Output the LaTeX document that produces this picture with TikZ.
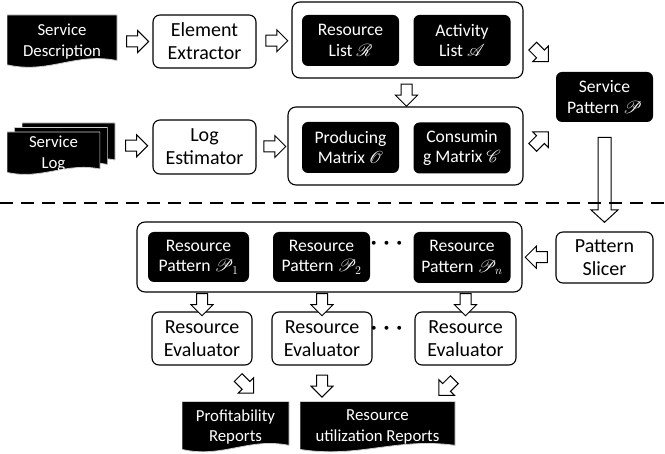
\documentclass[tikz,border=0pt]{standalone}
\usepackage{amsmath}
\usepackage{mathrsfs}
\usepackage{fontspec}
\setmainfont{Carlito}
\usetikzlibrary{shapes.arrows,calc}
\tikzset{
  proc/.style={draw=black,line width=1.1pt,rounded corners=7pt,fill=white,align=center,
    font=\fontsize{20}{23}\selectfont,
    minimum width=103pt,minimum height=53pt,inner sep=0pt},            % white step box
  blk/.style={fill=black,text=white,rounded corners=6pt,align=center,
    font=\fontsize{17.6}{20.5}\selectfont,
    minimum width=97pt,minimum height=51pt,inner sep=0pt},             % black data box
  grp/.style={draw=black,line width=1.1pt,rounded corners=8pt,inner sep=0pt},
  doc/.style={text=white,align=center,inner sep=0pt,minimum width=110pt,minimum height=53pt,
    font=\fontsize{16.8}{20.5}\selectfont,
    path picture={\filldraw[fill=black,draw=gray!40,line width=0.8pt]
      let \p1=(path picture bounding box.north west),
          \p2=(path picture bounding box.south east),
          \n1={\x2-\x1}, \n2={\y2-\y1} in
      (\x1,\y1) -- (\x2,\y1) -- ({\x2},{\y1+0.86*(\n2)})
      .. controls ({\x1+0.62*(\n1)},{\y1+0.7*(\n2)}) and ({\x1+0.38*(\n1)},{\y1+1.12*(\n2)})
      .. ({\x1},{\y1+0.94*(\n2)}) -- cycle;}},
  dots/.style={font=\fontsize{24}{26}\selectfont,inner sep=0pt},
  barrow/.style={single arrow,draw=black,fill=white,line width=1pt,inner xsep=0pt,inner ysep=5pt,
    minimum height=22pt,single arrow head extend=5.5pt,single arrow tip angle=90},
  sep/.style={line width=2.2pt,dash pattern=on 13pt off 8pt},
}

\begin{document}
\begin{tikzpicture}[x=1pt,y=-1pt]
  \useasboundingbox (0,0) rectangle (665,454);
  % extraction
  \node[doc] (sd) at (62,41.5) {Service\\Description};
  \node[proc] (ee) at (204.5,41.5) {Element\\Extractor};
  \node[grp,minimum width=231pt,minimum height=76pt] (g1) at (407.5,40) {};
  \node[blk] (rl) at (350.5,40.5) {Resource\\List $\mathscr{R}$};
  \node[blk] (al) at (462,40.5) {Activity\\List $\mathscr{A}$};
  \node[blk,minimum height=50pt] (sp) at (604.5,97) {Service\\Pattern $\mathscr{P}$};
  % log estimation
  \node[doc,minimum width=93pt,minimum height=43pt] (lg3) at (68.5,144.5) {};
  \node[doc,minimum width=93pt,minimum height=43pt] (lg2) at (61,149) {};
  \node[doc,minimum width=93pt,minimum height=43pt] (lg1) at (53.5,153.5) {Service\\Log};
  \node[proc,minimum height=54pt] (le) at (204.5,147) {Log\\Estimator};
  \node[grp,minimum width=235pt,minimum height=78pt] (g2) at (405.5,146) {};
  \node[blk] (pm) at (350.5,147.5) {Producing\\Matrix $\mathscr{O}$};
  \node[blk] (cm) at (462,148) {Consumin\\g Matrix $\mathscr{C}$};
  \node[barrow] (a1) at ($(sd.east)!0.5!(ee.west)$) {};
  \node[barrow] (a2) at ($(ee.east)!0.5!(g1.west)$) {};
  \node[barrow] (a3) at ($(lg3.east)!0.5!(le.west)$) {};
  \node[barrow] (a4) at ($(le.east)!0.5!(g2.west)$) {};
  \node[barrow,rotate=-90] (a5) at ($(g1.south)!0.5!(g2.north)$) {};
  \node[barrow,rotate=-45] (a6) at ($(g1.east)+(15,12)$) {};
  \node[barrow,rotate=45] (a7) at ($(g2.east)+(15,-4.5)$) {};
  % slicing
  \node[grp,minimum width=385pt,minimum height=70pt] (g3) at (329.5,257) {};
  \node[blk,minimum width=101pt,minimum height=50pt] (rp1) at (198.5,257) {Resource\\Pattern $\mathscr{P}_1$};
  \node[blk,minimum height=50pt] (rp2) at (321.5,257) {Resource\\Pattern $\mathscr{P}_2$};
  \node[dots] (d1) at (389,244) {$\boldsymbol{\cdots}$};
  \node[blk] (rpn) at (462,257.5) {Resource\\Pattern $\mathscr{P}_n$};
  \node[proc,minimum width=97pt,minimum height=51pt] (ps) at (604.5,257.5) {Pattern\\Slicer};
  \node[barrow,rotate=180] (a9) at ($(g3.east)!0.5!(ps.west)$) {};
  \node[barrow,rotate=-90,minimum height=85pt,inner ysep=6pt,single arrow head extend=7pt,
    single arrow tip angle=95] (a8) at ($(sp.south)!0.5!(ps.north)$) {};
  \coordinate (cutl) at (0,203);
  \coordinate (cutr) at (665,203);
  \draw[sep] (cutl) -- (cutr);
  % evaluation
  \node[proc,minimum width=100pt] (re1) at (202,338.5) {Resource\\Evaluator};
  \node[proc,minimum width=100pt] (re2) at (322,338.5) {Resource\\Evaluator};
  \node[dots] (d2) at (389,329) {$\boldsymbol{\cdots}$};
  \node[proc,minimum width=101pt] (re3) at (465.5,338.5) {Resource\\Evaluator};
  \foreach \r in {re1,re2,re3}
    \node[barrow,rotate=-90] (dn-\r) at ($(g3.south -| \r)!0.5!(\r.north)$) {};
  \node[doc,minimum width=107pt,minimum height=51pt] (pr) at (235.5,427) {Profitability\\Reports};
  \node[doc,minimum width=155pt,minimum height=51pt] (ru) at (377.5,427) {Resource\\utilization Reports};
  \node[barrow,rotate=-45] (a10) at ($(re1.south east)!0.5!(pr.north)$) {};
  \node[barrow,rotate=-90] (a11) at ($(re2.south)!0.5!(re2.south |- ru.north)$) {};
  \node[barrow,rotate=-135] (a12) at ($(re3.south)+(-17,20)$) {};
\end{tikzpicture}
\end{document}
